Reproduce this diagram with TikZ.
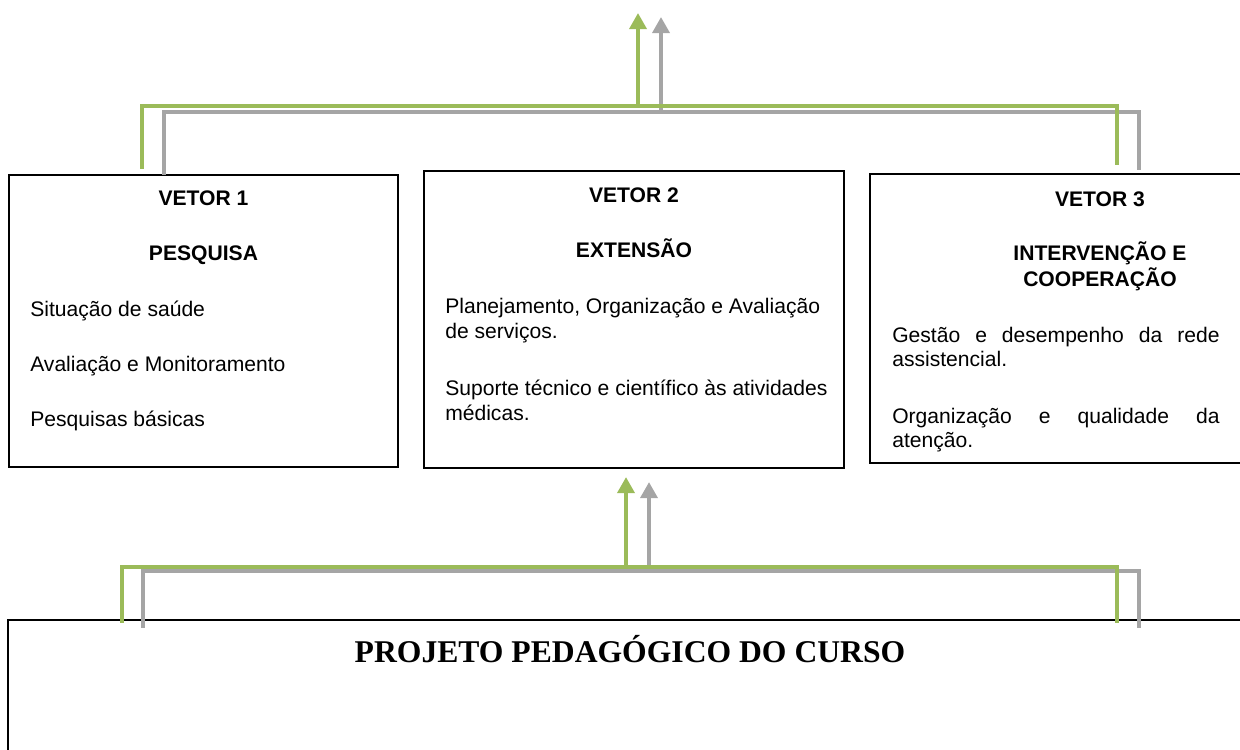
\documentclass[tikz,border=0pt]{standalone}
\usepackage{fontspec}
\setmainfont{Liberation Sans}
\newfontfamily\titlefont{Liberation Serif}
\usepackage{tikz}
\usetikzlibrary{arrows.meta, calc}
\definecolor{verde}{HTML}{9BBB59}
\definecolor{cinza}{HTML}{A5A5A5}

\begin{document}
\begin{tikzpicture}[x=0.025cm, y=-0.025cm, >={Triangle[width=0.42cm, length=0.4cm]},
    vetorbox/.style={draw, rectangle, line width=1.1pt, inner sep=0pt, outer sep=0pt},
    item/.style={font=\fontsize{15pt}{17.7pt}\selectfont, inner sep=0pt, anchor=base west, align=left},
    titulo/.style={font=\bfseries\fontsize{15pt}{18.4pt}\selectfont, inner sep=0pt, anchor=base, align=center},
    verdeline/.style={draw=verde, line width=2.8pt},
    cinzaline/.style={draw=cinza, line width=2.8pt}]
    \clip (0,0) rectangle (1240,749);

    \node[vetorbox, minimum width=9.725cm, minimum height=7.3cm] (v1) at (203.5,321) {};
    \node[vetorbox, minimum width=10.5cm, minimum height=7.425cm] (v2) at (634,319.5) {};
    \node[vetorbox, minimum width=11.5cm, minimum height=7.225cm] (v3) at (1100,318.5) {};
    \node[vetorbox, minimum width=32.3cm, minimum height=4.5cm] (proj) at (654,710) {};

    \node[titulo] (v1t) at (203.5,205) {VETOR 1};
    \node[titulo] (v1n) at (203.5,260) {PESQUISA};
    \node[item] (v1a) at (30,316) {Situação de saúde};
    \node[item] (v1b) at (30,371) {Avaliação e Monitoramento};
    \node[item] (v1c) at (30,426) {Pesquisas básicas};

    \node[titulo] (v2t) at (634,202) {VETOR 2};
    \node[titulo] (v2n) at (634,257) {EXTENSÃO};
    \node[item] (v2a) at (445,338) {Planejamento, Organização e Avaliação\\de serviços.};
    \node[item] (v2b) at (445,420) {Suporte técnico e científico às atividades\\médicas.};

    \node[titulo] (v3t) at (1100,206) {VETOR 3};
    \node[titulo] (v3n) at (1100,286) {INTERVENÇÃO E\\COOPERAÇÃO};
    \node[item, text width=8.18cm, align=justify] (v3a) at (892,342) {Gestão e desempenho da rede\linebreak assistencial.};
    \node[item, text width=8.18cm, align=justify] (v3b) at (892,423) {Organização e qualidade da\linebreak atenção.};

    \node[font=\titlefont\bfseries\fontsize{22.5pt}{27pt}\selectfont, inner sep=0pt, anchor=base] (ppc) at (630,662) {PROJETO PEDAGÓGICO DO CURSO};

    \coordinate (ga) at (142,106);
    \coordinate (gb) at (1117,106);
    \coordinate (ca) at (164,112);
    \coordinate (cb) at (1139,112);
    \coordinate (gtopo) at (638,13);
    \coordinate (ctopo) at (661,17);
    \draw[cinzaline, shorten >=0.1cm] (v1.north -| ca) -- (ca) -- (cb) -- (v3.north -| cb);
    \draw[cinzaline, ->] (ca -| ctopo) -- (ctopo);
    \draw[verdeline, shorten <=0.15cm, shorten >=0.225cm] (v1.north -| ga) -- (ga) -- (gb) -- (v3.north -| gb);
    \draw[verdeline, ->] (ga -| gtopo) -- (gtopo);

    \coordinate (gc) at (122,567);
    \coordinate (gd) at (1117,567);
    \coordinate (cc) at (143,571);
    \coordinate (cd) at (1139,571);
    \coordinate (gsobe) at (626,567);
    \coordinate (csobe) at (649,571);
    \draw[cinzaline] ($(proj.north -| cc)+(0,8)$) -- (cc) -- (cd) -- ($(proj.north -| cd)+(0,8)$);
    \draw[cinzaline, ->, shorten >=0.35cm] (csobe) -- (v2.south -| csobe);
    \draw[verdeline] ($(proj.north -| gc)+(0,3)$) -- (gc) -- (gd) -- ($(proj.north -| gd)+(0,3)$);
    \draw[verdeline, ->, shorten >=0.225cm] (gsobe) -- (v2.south -| gsobe);
\end{tikzpicture}
\end{document}
